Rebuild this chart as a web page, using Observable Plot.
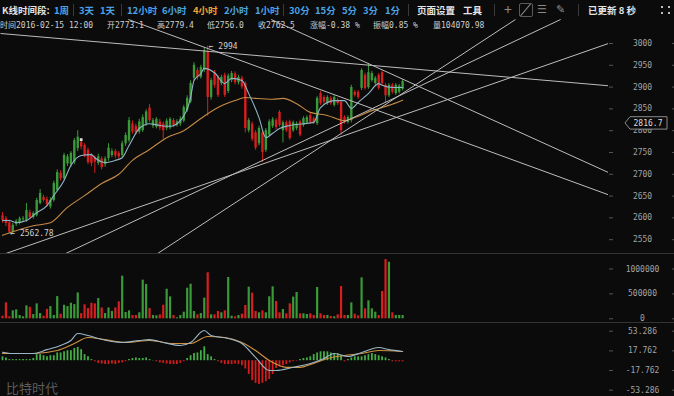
<!DOCTYPE html>
<html><head><meta charset="utf-8">
<script src="https://cdn.jsdelivr.net/npm/d3@7"></script>
<script src="https://cdn.jsdelivr.net/npm/@observablehq/plot@0.6"></script>
<style>
html,body{margin:0;padding:0;background:#0b0b0b;}
#root{position:relative;width:674px;height:396px;overflow:hidden;background:#0b0b0b;font-family:"Noto Sans CJK SC",sans-serif;}
.tb{position:absolute;top:2px;font-size:9.5px;font-weight:700;line-height:16px;white-space:nowrap;color:#4aa2e4;}
.w{color:#e4e4e4}
.o{color:#f0a232}
.g{color:#8a8a8a;font-weight:400}
.sep{position:absolute;top:4px;width:1px;height:12px;background:#3a3a3a}
.info{position:absolute;top:20px;font-size:8px;line-height:11px;color:#cfcfcf;white-space:nowrap;font-family:"DejaVu Sans Mono","Noto Sans CJK SC",monospace;z-index:5}
.panel{position:absolute;left:0;width:674px}
.hline{position:absolute;left:0;width:674px;height:1px;background:#333}
.wm{position:absolute;left:6px;top:380px;font-size:13px;line-height:15px;color:#5c5c5c;font-family:"Noto Sans CJK SC",sans-serif;white-space:nowrap}
</style></head>
<body>
<div id="root">
  <div class="tb w" style="left:2px">K线时间段:</div>
  <div class="tb" style="left:54px">1周</div>
  <div class="sep" style="left:73px"></div>
  <div class="tb" style="left:79px">3天</div>
  <div class="tb" style="left:100px">1天</div>
  <div class="sep" style="left:121px"></div>
  <div class="tb" style="left:127px">12小时</div>
  <div class="tb" style="left:162px">6小时</div>
  <div class="tb o" style="left:193px">4小时</div>
  <div class="tb" style="left:224px">2小时</div>
  <div class="tb" style="left:255px">1小时</div>
  <div class="sep" style="left:283px"></div>
  <div class="tb" style="left:289px">30分</div>
  <div class="tb" style="left:315px">15分</div>
  <div class="tb" style="left:342px">5分</div>
  <div class="tb" style="left:363px">3分</div>
  <div class="tb" style="left:385px">1分</div>
  <div class="sep" style="left:408px"></div>
  <div class="tb w" style="left:417px">页面设置</div>
  <div class="tb w" style="left:463px">工具</div>
  <div class="sep" style="left:494px"></div>
  <div class="tb g" style="left:504px;font-size:14px;top:1px">+</div>
  <div style="position:absolute;left:519px;top:3px;width:12px;height:12px;border:1px solid #5a5a5a;border-radius:2px;overflow:hidden">
    <div style="position:absolute;left:5px;top:-2px;width:1px;height:16px;background:#8a8a8a;transform:rotate(40deg)"></div>
  </div>
  <div class="tb g" style="left:537px;font-size:11px;font-family:'DejaVu Sans'">☰</div>
  <div class="tb g" style="left:556px;font-size:11px;font-family:'DejaVu Sans'">✎</div>
  <div class="sep" style="left:578px"></div>
  <div class="tb w" style="left:588px">已更新 8 秒</div>
  <div style="position:absolute;left:661px;top:6px;width:9px;height:8px">
    <div style="position:absolute;left:0;top:0;width:2px;height:2px;background:#bbb"></div>
    <div style="position:absolute;right:0;top:0;width:2px;height:2px;background:#bbb"></div>
    <div style="position:absolute;left:0;bottom:0;width:2px;height:2px;background:#bbb"></div>
    <div style="position:absolute;right:0;bottom:0;width:2px;height:2px;background:#bbb"></div>
  </div>

  <div class="panel" id="main" style="top:19px;height:234px"></div>
  <div class="hline" style="top:253px"></div>
  <div class="panel" id="vol" style="top:254px;height:68px"></div>
  <div class="hline" style="top:322px"></div>
  <div class="panel" id="macd" style="top:323px;height:73px"></div>

  <div class="info" style="left:0px">时间2016-02-15 12:00</div>
  <div class="info" style="left:107px">开2773.1</div>
  <div class="info" style="left:157px">高2779.4</div>
  <div class="info" style="left:207px">低2756.0</div>
  <div class="info" style="left:258px">收2762.5</div>
  <div class="info" style="left:310px">涨幅-0.38 %</div>
  <div class="info" style="left:373px">振幅0.85 %</div>
  <div class="info" style="left:433px">量104070.98</div>
  <div class="wm">比特时代</div>
</div>
<script>
// ---------- DATA ----------
const opens = [
2605,2598,2589,2567,2585,2588,2596,2594,2612,2601,
2605,2633,2647,2642,2625,2640,2663,2702,2690,2724,
2722,2727,2759,2773.1,2766,2755,2743,2738,2725,2735,
2722,2736,2743,2752,2748,2743,2770,2777,2815,2810,
2797,2800,2815,2852,2810,2808,2820,2815,2805,2806,
2823,2812,2815,2822,2846,2866,2920,2938,2922,2938,
2980,2876,2933,2922,2908,2927,2890,2915,2930,2910,
2920,2908,2800,2815,2795,2770,2795,2755,2790,2810,
2823,2842,2800,2818,2820,2800,2805,2820,2812,2818,
2835,2827,2816,2885,2876,2862,2873,2858,2869,2865,
2830,2819,2823,2888,2888,2897,2927,2899,2915,2908,
2927,2933,2904,2880,2904,2885,2888,2895];
const highs = [
2612,2603,2595,2588,2596,2602,2603,2633,2618,2614,
2645,2665,2652,2648,2646,2684,2710,2708,2748,2745,
2752,2782,2800,2779.4,2770,2760,2748,2742,2746,2740,
2740,2770,2758,2757,2752,2776,2795,2830,2822,2815,
2826,2836,2848,2860,2828,2830,2826,2820,2827,2830,
2828,2825,2832,2858,2880,2914,2956,2944,2950,2990,
2994,2920,2938,2927,2927,2932,2930,2936,2935,2927,
2925,2912,2828,2820,2800,2810,2800,2805,2825,2830,
2828,2846,2822,2822,2824,2822,2820,2824,2832,2834,
2840,2831,2878,2890,2880,2880,2878,2880,2874,2870,
2834,2834,2904,2892,2892,2942,2932,2954,2936,2924,
2931,2937,2908,2908,2908,2908,2906,2917];
const lows = [
2588,2580,2562.78,2564,2580,2584,2590,2590,2596,2597,
2602,2630,2636,2625,2620,2636,2660,2684,2686,2718,
2716,2722,2752,2756.0,2738,2722,2718,2702,2720,2710,
2716,2730,2738,2736,2735,2738,2764,2772,2792,2790,
2792,2796,2810,2818,2805,2804,2800,2780,2800,2802,
2807,2808,2810,2818,2842,2862,2914,2916,2918,2933,
2833,2870,2898,2876,2903,2876,2885,2910,2905,2905,
2895,2795,2795,2775,2755,2765,2727,2750,2786,2805,
2802,2808,2772,2796,2778,2796,2800,2786,2808,2814,
2815,2814,2812,2858,2860,2858,2858,2854,2858,2789,
2815,2815,2818,2877,2872,2892,2893,2895,2911,2904,
2893,2904,2862,2876,2884,2881,2884,2891];
const closes = [
2594,2587,2567,2583,2592,2598,2598,2617,2600,2610,
2640,2656,2640,2630,2640,2679,2704,2690,2743,2740,
2748,2777,2785,2762.5,2743,2727,2725,2728,2740,2715,
2735,2760,2752,2742,2740,2770,2789,2823,2797,2795,
2820,2830,2843,2823,2823,2826,2806,2800,2822,2826,
2812,2820,2826,2853,2874,2908,2950,2922,2945,2984,
2876,2915,2904,2881,2922,2881,2925,2931,2910,2922,
2900,2805,2823,2780,2760,2805,2750,2800,2820,2825,
2807,2812,2818,2800,2782,2818,2815,2790,2828,2830,
2819,2818,2874,2862,2865,2876,2862,2876,2862,2800,
2819,2830,2899,2881,2876,2938,2897,2933,2931,2920,
2897,2908,2880,2904,2888,2904,2902,2913];
const volumes = [
52000,320000,40000,160000,180000,66000,40000,260000,230000,86000,
300000,106000,52000,190000,245000,66000,446000,92000,272000,245000,
312000,285000,520000,104070.98,280000,205000,312000,300000,406000,218000,
106000,218000,146000,218000,340000,856000,126000,160000,66000,66000,
120000,776000,690000,205000,66000,60000,80000,272000,594000,440000,
66000,20000,66000,133000,614000,694000,146000,80000,106000,414000,
924000,80000,80000,147000,120000,160000,830000,53000,40000,66000,
93000,267000,635000,515000,147000,120000,160000,120000,442000,642000,
347000,120000,187000,100000,300000,435000,528000,100000,100000,86000,
100000,66000,628000,100000,66000,66000,46000,40000,80000,648000,
66000,66000,320000,93000,60000,823000,200000,361000,200000,133000,
66000,548000,1190000,1136000,120000,66000,66000,66000];
const macdHist = [
7,5,2,2,2,2,2,2,2,4,
11,11,9,7,9,9,14,14,16,18,
18,22,24,20,11,7,2,-2,-5,-6,
-7,-7,-6,-7,-5,-4,-2,2,4,5,
4,4,5,2,0.5,-2,-4,-5,-6,-7,
-7,-7,-5,-2,4,9,13,14,18,25,
11,7,2,-2,-5,-7,-7,-7,-6,-7,
-9,-15,-25,-36,-41,-43,-41,-38,-34,-25,
-14,-11,-9,-7,-4,-2,-1,2,4,5,
7,11,14,16,16,16,14,13,13,9,
-2,2,5,7,7,7,9,11,13,11,
9,7,5,2,-2,-2,-2,-2];

// moving averages (candle index, value)
const maFastIdx = [0,2,4,7,10,13,15,18,20,23,26,27,30,33,35,37,40,43,46,49,52,55,56,58,59,62,65,67,70,72,75,77,79,81,84,88,91,93,97,100,102,104,107,110,111,114,117];
const maFastVal = [2594,2594,2589,2594,2612,2628,2651,2686,2720,2743,2745,2738,2727,2732,2738,2766,2805,2816,2812,2810,2823,2876,2915,2931,2943,2933,2908,2920,2915,2885,2830,2784,2794,2805,2812,2816,2819,2853,2869,2869,2851,2865,2885,2908,2904,2899,2899];
const maSlowIdx = [0,9,14,19,24,29,34,38,43,48,53,58,63,68,71,74,79,82,86,90,95,100,103,108,113,117];
const maSlowVal = [2560,2582,2589,2624,2651,2679,2700,2732,2757,2784,2800,2828,2853,2869,2876,2874,2872,2874,2862,2842,2835,2823,2830,2846,2858,2870];
const difIdx = [0,3,9,13,17,20,22,25,28,35,40,43,47,52,55,59,61,66,70,74,78,80,85,90,94,97,101,105,110,113,117];
const difVal = [15.4,13,13,20,27.5,36.5,49,45.5,40,33,36.5,38,33,27.5,33,54.5,45.5,40,31,6,-17.7,-17.7,-12,-5,4,13,7.6,14.8,23.8,20,16.6];
const deaIdx = [0,9,16,21,25,30,36,43,50,55,60,65,70,74,78,83,87,91,95,100,105,110,117];
const deaVal = [13,13,18.4,31,42,38,33,36.5,31,31,43.7,42,33,18.4,0.4,-12,-12,-5,4,9.4,13,18.4,16.6];

// drawn trend lines (start index, start price, end index, end price)
const trendI1 = [-0.585, 78.6, 36.8, 0.88, 18.4, 45.3];
const trendP1 = [3022.9, 3055, 3055, 2518, 2518, 2518];
const trendI2 = [177.2, 177.2, 177.2, 177.2, 163.2, 150];
const trendP2 = [2903.0, 2704, 2652.9, 3000, 3055, 3055];

const priceTicks = [2550,2600,2650,2700,2750,2800,2850,2900,2950,3000];
const volumeTicks = [0,500000,1000000];
const macdTicks = [53.286,17.762,-17.762,-53.286];
const hoverIndex = 23;
const currentPrice = 2816.7;

// ---------- CHART ----------
const GREEN = "#3a9a3a", RED = "#d81e1e", MGREEN = "#45ad45", MRED = "#d41c1c";
const W = 674, MR = 66;
const xDomain = [-0.585, 177.2];
const candles = d3.range(closes.length).map(i => ({i, o: opens[i], h: highs[i], l: lows[i], c: closes[i], v: volumes[i], m: macdHist[i]}));
const col = d => d.c >= d.o ? GREEN : RED;
const baseStyle = {background: "transparent", color: "#a0a0a0", fontFamily: "DejaVu Sans Mono", fontSize: "8px", overflow: "visible"};

function rightAxis(ticks, fmt) {
  return [
    Plot.axisY({ticks, anchor: "right", tickSize: 4, tickPadding: 30, textAnchor: "middle", tickFormat: fmt, stroke: "#555", fill: "#a3a3a3", fontSize: 8}),
    Plot.axisY({ticks, anchor: "right", tickSize: 3, tickFormat: () => "", dx: 63, stroke: "#555"})
  ];
}

const trends = trendI1.map((d, k) => ({i1: trendI1[k], p1: trendP1[k], i2: trendI2[k], p2: trendP2[k]}));
const maFast = maFastIdx.map((d, k) => ({i: d, v: maFastVal[k]}));
const maSlow = maSlowIdx.map((d, k) => ({i: d, v: maSlowVal[k]}));
const peakIdx = d3.maxIndex(highs), lowIdx = d3.minIndex(lows);

const mainPlot = Plot.plot({
  width: W, height: 234, marginLeft: 0, marginRight: MR, marginTop: 0, marginBottom: 0,
  style: baseStyle,
  x: {domain: xDomain, axis: null},
  y: {domain: [2518.3, 3055], label: null},
  color: {type: "identity"},
  marks: [
    Plot.ruleX(candles, {x: "i", y1: "l", y2: "h", stroke: col, strokeWidth: 1}),
    Plot.ruleX(candles, {x: "i", y1: "o", y2: "c", stroke: col, strokeWidth: 2.4}),
    Plot.line(maSlow, {x: "i", y: "v", stroke: "#c58a45", strokeWidth: 1.1, curve: "monotone-x"}),
    Plot.line(maFast, {x: "i", y: "v", stroke: "#8fb5c9", strokeWidth: 1.1, curve: "monotone-x"}),
    Plot.link(trends, {x1: "i1", y1: "p1", x2: "i2", y2: "p2", stroke: "#bdbdbd", strokeWidth: 1, clip: true}),
    Plot.dot([hoverIndex], {x: d => d, y: d => highs[d], symbol: "square", r: 1.6, fill: "#e0e0e0"}),
    Plot.text([peakIdx], {x: d => d, y: d => highs[d], text: d => "← " + highs[d], textAnchor: "start", dx: 1, fill: "#d0d0d0", fontSize: 8}),
    Plot.text([lowIdx], {x: d => d, y: d => lows[d], text: d => "← " + lows[d], textAnchor: "start", dx: 1, dy: -1, fill: "#d0d0d0", fontSize: 8}),
    ...rightAxis(priceTicks, d => String(d))
  ]
});
document.getElementById("main").appendChild(mainPlot);

// current price box on the right axis
{
  const y0 = mainPlot.scale("y").apply(currentPrice);
  const fx = W - MR;
  const g = d3.select(mainPlot).append("g");
  g.append("path")
    .attr("d", `M${fx + 17},${y0} L${fx + 22},${y0 - 6.2} H${fx + 59} V${y0 + 6.2} H${fx + 22} Z`)
    .attr("fill", "#0b0b0b").attr("stroke", "#8a8a8a").attr("stroke-width", 1);
  g.append("text").attr("x", fx + 40).attr("y", y0).attr("dy", "0.35em")
    .attr("text-anchor", "middle").attr("fill", "#dcdcdc").attr("font-size", 8)
    .attr("font-family", "DejaVu Sans Mono").text(currentPrice.toFixed(1));
}

const volPlot = Plot.plot({
  width: W, height: 68, marginLeft: 0, marginRight: MR, marginTop: 0, marginBottom: 0,
  style: baseStyle,
  x: {domain: xDomain, axis: null},
  y: {domain: [-74000, 1291000], label: null},
  color: {type: "identity"},
  marks: [
    Plot.ruleX(candles, {x: "i", y1: 0, y2: "v", stroke: col, strokeWidth: 2.2}),
    ...rightAxis(volumeTicks, d => String(d))
  ]
});
document.getElementById("vol").appendChild(volPlot);

const dif = difIdx.map((d, k) => ({i: d, v: difVal[k]}));
const dea = deaIdx.map((d, k) => ({i: d, v: deaVal[k]}));
const macdPlot = Plot.plot({
  width: W, height: 73, marginLeft: 0, marginRight: MR, marginTop: 0, marginBottom: 0,
  style: baseStyle,
  x: {domain: xDomain, axis: null},
  y: {domain: [-64.7, 67.2], label: null},
  color: {type: "identity"},
  marks: [
    Plot.ruleX(candles, {x: "i", y1: 0, y2: "m", stroke: d => d.m >= 0 ? MGREEN : MRED, strokeWidth: 1.8}),
    Plot.line(dea, {x: "i", y: "v", stroke: "#d0913f", strokeWidth: 1.1, curve: "monotone-x"}),
    Plot.line(dif, {x: "i", y: "v", stroke: "#9bb6c6", strokeWidth: 1.1, curve: "monotone-x"}),
    ...rightAxis(macdTicks, d => d.toFixed(3))
  ]
});
document.getElementById("macd").appendChild(macdPlot);
</script>
</body></html>
